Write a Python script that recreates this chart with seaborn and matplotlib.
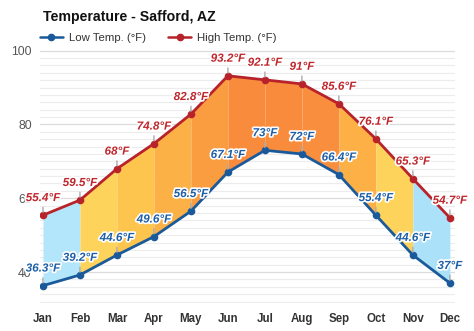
import numpy as np
import pandas as pd
import matplotlib
matplotlib.use("Agg")
import matplotlib.pyplot as plt
import matplotlib.patheffects as pe
from matplotlib.lines import Line2D
import seaborn as sns

months = ["Jan", "Feb", "Mar", "Apr", "May", "Jun", "Jul", "Aug", "Sep", "Oct", "Nov", "Dec"]
low_temp = [36.3, 39.2, 44.6, 49.6, 56.5, 67.1, 73, 72, 66.4, 55.4, 44.6, 37]
high_temp = [55.4, 59.5, 68, 74.8, 82.8, 93.2, 92.1, 91, 85.6, 76.1, 65.3, 54.7]
segment_colors = ["#b3e6fb", "#fdd35c", "#fdc44e", "#fcb146", "#fa9c40",
                  "#f98b3c", "#f98b3c", "#f98f3e", "#fcb045", "#fdd35c", "#abe2f9"]
y_ticks = [40, 60, 80, 100]
title = "Temperature - Safford, AZ"
low_name = "Low Temp. (°F)"
high_name = "High Temp. (°F)"

LOW_C = "#1b5a9a"
HIGH_C = "#b8232b"
LOW_T = "#1d5fa8"
HIGH_T = "#c0272d"

sns.set_theme(style="white")
plt.rcParams["font.family"] = ["Liberation Sans", "DejaVu Sans"]

fig = plt.figure(figsize=(4.74, 3.31), dpi=100)
ax = fig.add_axes([0.0844, 0.0846, 0.8756, 0.7644])

x = np.arange(len(months))
df = pd.DataFrame({"x": np.concatenate([x, x]),
                   "temp": low_temp + high_temp,
                   "series": [low_name] * len(x) + [high_name] * len(x)})

# filled segments
for i in range(len(months) - 1):
    ax.fill_between(x[i:i + 2], low_temp[i:i + 2], high_temp[i:i + 2],
                    color=segment_colors[i], lw=0, zorder=1)

sns.lineplot(data=df, x="x", y="temp", hue="series",
             palette={low_name: LOW_C, high_name: HIGH_C},
             marker="o", markersize=5.5, markeredgewidth=0, linewidth=2,
             legend=False, ax=ax, zorder=4)

stroke = [pe.withStroke(linewidth=2.4, foreground="white")]
for series, color in ((high_temp, HIGH_T), (low_temp, LOW_T)):
    for xi, v in zip(x, series):
        ax.annotate(f"{v:g}°F", xy=(xi, v), xytext=(0, 8), textcoords="offset points",
                    ha="center", va="bottom", fontsize=8.4, fontweight="bold",
                    fontstyle="italic", color=color, path_effects=stroke, zorder=6,
                    arrowprops=dict(arrowstyle="-", color="#aaaaaa", lw=1,
                                    shrinkA=0, shrinkB=2))

ax.set_xlim(-0.08, 11.14)
ax.set_ylim(31.6, 100.2)
ax.set_xticks(x)
ax.set_xticklabels(months, fontsize=8.3, fontweight="bold", color="#333333")
ax.set_yticks(y_ticks)
ax.set_yticklabels([str(t) for t in y_ticks], fontsize=8.8, color="#555555")
ax.set_yticks(np.arange(32, 101, 2), minor=True)
ax.grid(which="minor", axis="y", color="#ececec", lw=0.8, zorder=0)
ax.grid(which="major", axis="y", color="#dcdcdc", lw=0.9, zorder=0)
ax.grid(axis="x", visible=False)
ax.set_axisbelow(True)
ax.tick_params(axis="both", length=0)
ax.tick_params(axis="y", pad=6)
ax.tick_params(axis="x", pad=7)
for s in ax.spines.values():
    s.set_visible(False)
ax.set_xlabel("")
ax.set_ylabel("")

fig.text(0.091, 0.948, title, fontsize=10.2, fontweight="bold", color="#111111",
         ha="left", va="center")

handles = [Line2D([], [], color=LOW_C, lw=1.8, marker="o", markersize=4.5),
           Line2D([], [], color=HIGH_C, lw=1.8, marker="o", markersize=4.5)]
fig.legend(handles, [low_name, high_name], loc="center left",
           bbox_to_anchor=(0.075, 0.885), ncol=2, frameon=False,
           fontsize=8.2, handlelength=2.0, handletextpad=0.5, columnspacing=2.0,
           labelcolor="#333333", borderaxespad=0)

fig.savefig("out.png", dpi=100, facecolor="white")
